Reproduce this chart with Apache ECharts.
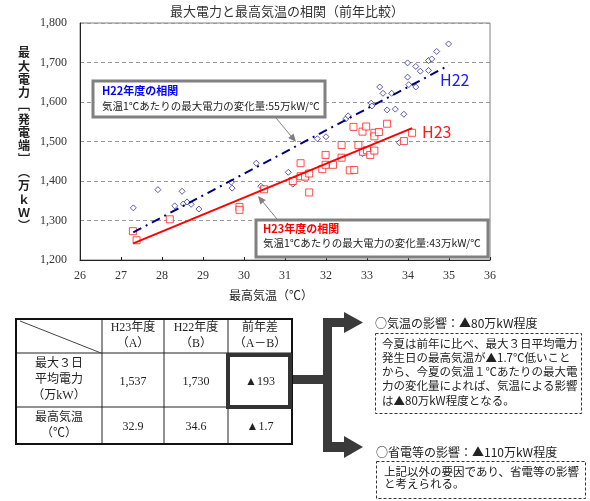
<!DOCTYPE html>
<html lang="ja">
<head>
<meta charset="UTF-8">
<title>最大電力と最高気温の相関</title>
<script src="https://cdn.jsdelivr.net/npm/echarts@6.0.0/dist/echarts.min.js"></script>
<style>
    html, body { margin: 0; padding: 0; background: #fff; }
    #chart { width: 590px; height: 501px; }
</style>
</head>
<body>
<div id="chart"></div>
<script>
// 散布図データ [最高気温(℃), 最大電力(万kW)]
const h22Points = [
    [27.30, 1332], [27.90, 1378], [28.31, 1337], [28.49, 1374], [28.52, 1342],
    [28.61, 1347], [28.71, 1341], [28.90, 1329], [29.69, 1397], [29.71, 1382],
    [30.30, 1445], [30.41, 1387], [31.08, 1422], [31.19, 1392], [31.79, 1507],
    [32.00, 1512], [32.48, 1557], [32.54, 1565], [32.89, 1469], [33.10, 1597],
    [33.12, 1590], [33.31, 1638], [33.39, 1622], [33.49, 1580], [33.60, 1622],
    [33.69, 1582], [33.79, 1497], [33.90, 1569], [33.99, 1663], [33.99, 1699],
    [34.02, 1644], [34.19, 1690], [34.19, 1638], [34.30, 1678], [34.50, 1680],
    [34.50, 1705], [34.58, 1709], [34.70, 1728], [34.99, 1747]
];
const h23Points = [
    [27.29, 1273], [27.38, 1250], [28.19, 1303], [29.89, 1334], [29.89, 1327],
    [30.49, 1379], [31.19, 1400], [31.38, 1412], [31.38, 1445], [31.49, 1411],
    [31.59, 1419], [31.59, 1371], [31.91, 1430], [31.99, 1441], [31.99, 1466],
    [32.17, 1441], [32.38, 1459], [32.38, 1491], [32.58, 1427], [32.67, 1537],
    [32.69, 1428], [32.79, 1491], [32.89, 1525], [32.90, 1474], [32.98, 1538],
    [33.00, 1478], [33.08, 1466], [33.18, 1522], [33.18, 1513], [33.18, 1477],
    [33.29, 1524], [33.49, 1545], [33.90, 1501], [34.10, 1522]
];
// 回帰直線の両端
const h22Trend = [[27.3, 1270], [35.0, 1693]];
const h23Trend = [[27.3, 1242], [34.1, 1534]];

// 表
const tableHeads = ['H23年度\n（A）', 'H22年度\n（B）', '前年差\n（A－B）'];
const rowLabels = ['最大３日\n平均電力\n（万kW）', '最高気温\n（℃）'];
const peakPower = [1537, 1730, -193];
const maxTemp = [32.9, 34.6, -1.7];

// 右側の説明
const tempTitle = '○気温の影響：▲80万kW程度';
const tempLines = [
    '今夏は前年に比べ、最大３日平均電力',
    '発生日の最高気温が▲1.7℃低いこと',
    'から、今夏の気温１℃あたりの最大電',
    '力の変化量によれば、気温による影響',
    'は▲80万kW程度となる。'
];
const saveTitle = '○省電等の影響：▲110万kW程度';
const saveLines = [
    '上記以外の要因であり、省電等の影響',
    'と考えられる。'
];

const jp = "'Noto Sans CJK JP', sans-serif";
const mincho = "'Liberation Serif', 'Noto Sans CJK JP', serif";

function txt(text, x, y, opt) {
    opt = opt || {};
    return {
        type: 'text', z: 110,
        style: {
            text: text, x: x, y: y,
            font: (opt.weight || 'normal') + ' ' + (opt.size || 12) + 'px ' + (opt.family || jp),
            fill: opt.color || '#222',
            textAlign: opt.align || 'left',
            textVerticalAlign: opt.valign || 'middle',
            lineHeight: opt.lh || 15
        }
    };
}

function arrow(x1, y1, x2, y2) {
    const a = Math.atan2(y2 - y1, x2 - x1);
    const len = 8, w = 3.5;
    const bx = x2 - len * Math.cos(a), by = y2 - len * Math.sin(a);
    return [
        { type: 'line', z: 105, shape: { x1: x1, y1: y1, x2: bx, y2: by }, style: { stroke: '#808080', lineWidth: 1 } },
        { type: 'polygon', z: 105, shape: { points: [[x2, y2], [bx + w * Math.sin(a), by - w * Math.cos(a)], [bx - w * Math.sin(a), by + w * Math.cos(a)]] }, style: { fill: '#808080' } }
    ];
}

function fmt(v, comma) {
    const s = comma ? Math.abs(v).toLocaleString('en-US') : String(Math.abs(v));
    return v < 0 ? '▲' + s : s;
}

const graphic = [];

// タイトル・軸名
graphic.push(txt('最大電力と最高気温の相関（前年比較）', 287, 11, { size: 13, align: 'center', color: '#333' }));
graphic.push(txt('最\n大\n電\n力\n﹇\n発\n電\n端\n﹈\n︵\n万\nｋ\nＷ\n︶', 24, 46,
    { size: 12, weight: 'bold', align: 'center', valign: 'top', lh: 13.3 }));
graphic.push(txt('最高気温（℃）', 271, 295, { size: 12, align: 'center' }));

// 注釈ボックス
graphic.push({ type: 'rect', z: 100, shape: { x: 93, y: 81, width: 232, height: 36 }, style: { fill: '#fff', stroke: '#808080', lineWidth: 3 } });
graphic.push(txt('H22年度の相関', 102, 91, { size: 11, weight: 'bold', color: '#0000ff' }));
graphic.push(txt('気温1℃あたりの最大電力の変化量:55万kW/℃', 102, 106, { size: 10.5 }));
graphic.push(...arrow(276, 118, 296, 142));

graphic.push({ type: 'rect', z: 100, shape: { x: 256, y: 220, width: 232, height: 37 }, style: { fill: '#fff', stroke: '#808080', lineWidth: 3 } });
graphic.push(txt('H23年度の相関', 263, 229, { size: 11, weight: 'bold', color: '#ff0000' }));
graphic.push(txt('気温1℃あたりの最大電力の変化量:43万kW/℃', 263, 243, { size: 10.5 }));
graphic.push(...arrow(277, 219, 258, 196));

graphic.push(txt('H22', 440, 80, { size: 16, color: '#1a1aff' }));
graphic.push(txt('H23', 422, 132, { size: 16, color: '#ff1a1a' }));

// 表
const colX = [16, 102, 164, 228, 292];
const rowY = [319, 353, 407, 444];
for (let i = 1; i < colX.length - 1; i++) {
    graphic.push({ type: 'line', z: 100, shape: { x1: colX[i], y1: rowY[0], x2: colX[i], y2: rowY[3] }, style: { stroke: '#222', lineWidth: 1 } });
}
for (let j = 1; j < rowY.length - 1; j++) {
    graphic.push({ type: 'line', z: 100, shape: { x1: colX[0], y1: rowY[j], x2: colX[4], y2: rowY[j] }, style: { stroke: '#222', lineWidth: 1 } });
}
graphic.push({ type: 'line', z: 100, shape: { x1: 20, y1: 321, x2: 101, y2: 353 }, style: { stroke: '#444', lineWidth: 1 } });
graphic.push({ type: 'rect', z: 101, shape: { x: colX[0], y: rowY[0], width: colX[4] - colX[0], height: rowY[3] - rowY[0] }, style: { fill: 'none', stroke: '#111', lineWidth: 2 } });
graphic.push({ type: 'rect', z: 102, shape: { x: 228, y: 355, width: 62, height: 52 }, style: { fill: 'none', stroke: '#333', lineWidth: 4 } });

tableHeads.forEach((h, i) => {
    graphic.push(txt(h, (colX[i + 1] + colX[i + 2]) / 2, 336, { size: 12, align: 'center', family: mincho, lh: 16 }));
});
rowLabels.forEach((r, j) => {
    graphic.push(txt(r, (colX[0] + colX[1]) / 2, (rowY[j + 1] + rowY[j + 2]) / 2, { size: 12, align: 'center', family: mincho, lh: 16 }));
});
peakPower.forEach((v, i) => {
    graphic.push(txt(fmt(v, true), (colX[i + 1] + colX[i + 2]) / 2, 382, { size: 12, align: 'center', family: mincho }));
});
maxTemp.forEach((v, i) => {
    graphic.push(txt(fmt(v, false), (colX[i + 1] + colX[i + 2]) / 2, 427, { size: 12, align: 'center', family: mincho }));
});

// 矢印コネクタ
const dark = '#3a3a3a';
graphic.push({ type: 'rect', z: 100, shape: { x: 290, y: 375, width: 42, height: 9 }, style: { fill: dark } });
graphic.push({ type: 'rect', z: 100, shape: { x: 323, y: 318, width: 9, height: 134 }, style: { fill: dark } });
graphic.push({ type: 'rect', z: 100, shape: { x: 323, y: 318, width: 23, height: 9 }, style: { fill: dark } });
graphic.push({ type: 'polygon', z: 100, shape: { points: [[344, 312], [363, 322.5], [344, 333]] }, style: { fill: dark } });
graphic.push({ type: 'rect', z: 100, shape: { x: 323, y: 442, width: 23, height: 10 }, style: { fill: dark } });
graphic.push({ type: 'polygon', z: 100, shape: { points: [[344, 436], [363, 447], [344, 458]] }, style: { fill: dark } });

// 説明ボックス
graphic.push(txt(tempTitle, 375, 323, { size: 12 }));
graphic.push({ type: 'rect', z: 100, shape: { x: 375.5, y: 333.5, width: 206, height: 80 }, style: { fill: '#fff', stroke: '#333', lineWidth: 1, lineDash: [3, 2] } });
graphic.push(txt(tempLines.join('\n'), 382, 336, { size: 11.5, valign: 'top', lh: 14.3 }));

graphic.push(txt(saveTitle, 376, 452, { size: 12 }));
graphic.push({ type: 'rect', z: 100, shape: { x: 376.5, y: 461.5, width: 209, height: 37 }, style: { fill: '#fff', stroke: '#333', lineWidth: 1, lineDash: [3, 2] } });
graphic.push(txt(saveLines.join('\n'), 384, 466, { size: 11.5, valign: 'top', lh: 12 }));

const chart = echarts.init(document.getElementById('chart'));
chart.setOption({
    animation: false,
    grid: { left: 80, right: 100, top: 23, bottom: 241, show: true, borderColor: '#808080', borderWidth: 1 },
    xAxis: {
        type: 'value', min: 26, max: 36, interval: 1,
        axisLine: { onZero: false, lineStyle: { color: '#222', width: 1 } },
        axisTick: { inside: true, length: 3, lineStyle: { color: '#222' } },
        axisLabel: { margin: 10, fontSize: 12, color: '#333', fontFamily: mincho },
        splitLine: { show: false }
    },
    yAxis: {
        type: 'value', min: 1200, max: 1800, interval: 100,
        axisLine: { show: true, onZero: false, lineStyle: { color: '#222', width: 1 } },
        axisTick: { show: false },
        axisLabel: { margin: 13, fontSize: 12, color: '#333', fontFamily: mincho,
            formatter: v => v.toLocaleString('en-US') },
        splitLine: { show: true, lineStyle: { color: '#999', type: [4, 3] } }
    },
    series: [
        {
            name: 'H22', type: 'scatter', data: h22Points, symbol: 'diamond', symbolSize: 6,
            itemStyle: { color: '#fff', borderColor: '#333399', borderWidth: 1 }
        },
        {
            name: 'H23', type: 'scatter', data: h23Points, symbol: 'rect', symbolSize: 7,
            itemStyle: { color: '#fff', borderColor: '#ff2020', borderWidth: 1 }
        },
        {
            name: 'H22相関', type: 'line', data: h22Trend, symbol: 'none', z: 5,
            lineStyle: { color: '#000080', width: 2, type: [9, 5, 2, 5] }
        },
        {
            name: 'H23相関', type: 'line', data: h23Trend, symbol: 'none', z: 5,
            lineStyle: { color: '#ff0000', width: 2 }
        }
    ],
    graphic: graphic
});
</script>
</body>
</html>
